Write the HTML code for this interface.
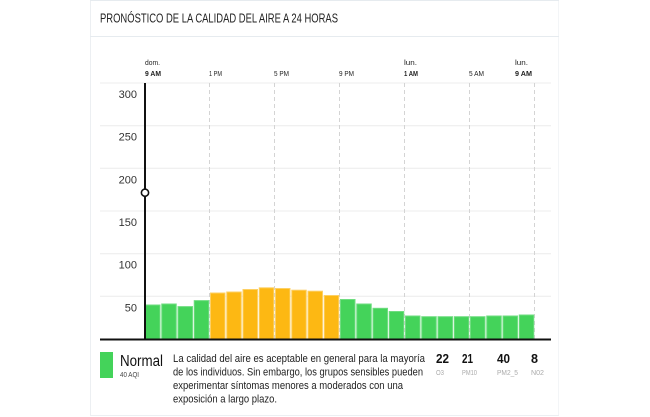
<!DOCTYPE html>
<html>
<head>
<meta charset="utf-8">
<style>
  html, body { margin: 0; padding: 0; background: #ffffff; }
  body { width: 650px; height: 417px; overflow: hidden; }
  svg { display: block; font-family: "Liberation Sans", sans-serif; }
</style>
</head>
<body>
<svg width="650" height="417" viewBox="0 0 650 417" xmlns="http://www.w3.org/2000/svg">
  <!-- card borders -->
  <line x1="90.5" y1="0" x2="90.5" y2="416" stroke="#eceff2" stroke-width="1"/>
  <line x1="558.5" y1="0" x2="558.5" y2="416" stroke="#f3f5f7" stroke-width="1"/>
  <line x1="90" y1="0.5" x2="559" y2="0.5" stroke="#e6ebef" stroke-width="1"/>
  <line x1="90" y1="36.5" x2="559" y2="36.5" stroke="#e6ebef" stroke-width="1"/>
  <line x1="90" y1="415.5" x2="559" y2="415.5" stroke="#eceff2" stroke-width="1"/>

  <!-- title -->
  <text x="100" y="22.5" font-size="12.5" fill="#222" textLength="238" lengthAdjust="spacingAndGlyphs">PRONÓSTICO DE LA CALIDAD DEL AIRE A 24 HORAS</text>

  <!-- top tick labels -->
  <g font-size="7.5" fill="#222">
    <text x="145" y="65" textLength="15" lengthAdjust="spacingAndGlyphs">dom.</text>
    <text x="404" y="65" textLength="13" lengthAdjust="spacingAndGlyphs">lun.</text>
    <text x="515" y="65" textLength="13" lengthAdjust="spacingAndGlyphs">lun.</text>
  </g>
  <g font-size="7.5" fill="#222">
    <text x="145" y="76" font-weight="bold" textLength="16" lengthAdjust="spacingAndGlyphs">9 AM</text>
    <text x="209" y="76" textLength="13" lengthAdjust="spacingAndGlyphs">1 PM</text>
    <text x="274" y="76" textLength="15" lengthAdjust="spacingAndGlyphs">5 PM</text>
    <text x="339" y="76" textLength="15" lengthAdjust="spacingAndGlyphs">9 PM</text>
    <text x="404" y="76" font-weight="bold" textLength="14" lengthAdjust="spacingAndGlyphs">1 AM</text>
    <text x="469" y="76" textLength="15" lengthAdjust="spacingAndGlyphs">5 AM</text>
    <text x="515" y="76" font-weight="bold" textLength="17" lengthAdjust="spacingAndGlyphs">9 AM</text>
  </g>

  <!-- horizontal gridlines -->
  <g stroke="#ececec" stroke-width="1">
    <line x1="100" y1="83" x2="551" y2="83"/>
    <line x1="100" y1="125.7" x2="551" y2="125.7"/>
    <line x1="100" y1="168.3" x2="551" y2="168.3"/>
    <line x1="100" y1="211" x2="551" y2="211"/>
    <line x1="100" y1="253.7" x2="551" y2="253.7"/>
    <line x1="100" y1="296.3" x2="551" y2="296.3"/>
  </g>

  <!-- y labels -->
  <g font-size="11" fill="#333" text-anchor="end">
    <text x="137" y="98">300</text>
    <text x="137" y="140.7">250</text>
    <text x="137" y="183.3">200</text>
    <text x="137" y="226">150</text>
    <text x="137" y="268.7">100</text>
    <text x="137" y="311.3">50</text>
  </g>

  <!-- dashed vertical lines -->
  <g stroke="#d4d4d4" stroke-width="1" stroke-dasharray="4 3">
    <line x1="209.5" y1="83" x2="209.5" y2="339"/>
    <line x1="274.5" y1="83" x2="274.5" y2="339"/>
    <line x1="339.5" y1="83" x2="339.5" y2="339"/>
    <line x1="404.5" y1="83" x2="404.5" y2="339"/>
    <line x1="469.5" y1="83" x2="469.5" y2="339"/>
    <line x1="534.5" y1="83" x2="534.5" y2="339"/>
  </g>

  <!-- bars -->
  <g stroke-width="1">
    <rect x="145.5" y="305" width="14.5" height="34" fill="#44d35a" stroke="#6fdd80"/>
    <rect x="161.75" y="304" width="14.5" height="35" fill="#44d35a" stroke="#6fdd80"/>
    <rect x="178" y="306.6" width="14.5" height="32.4" fill="#44d35a" stroke="#6fdd80"/>
    <rect x="194.25" y="300.6" width="14.5" height="38.4" fill="#44d35a" stroke="#6fdd80"/>
    <rect x="210.5" y="293" width="14.5" height="46" fill="#fdb813" stroke="#fdd064"/>
    <rect x="226.75" y="292" width="14.5" height="47" fill="#fdb813" stroke="#fdd064"/>
    <rect x="243" y="289.5" width="14.5" height="49.5" fill="#fdb813" stroke="#fdd064"/>
    <rect x="259.25" y="287.8" width="14.5" height="51.2" fill="#fdb813" stroke="#fdd064"/>
    <rect x="275.5" y="288.5" width="14.5" height="50.5" fill="#fdb813" stroke="#fdd064"/>
    <rect x="291.75" y="290.2" width="14.5" height="48.8" fill="#fdb813" stroke="#fdd064"/>
    <rect x="308" y="291.2" width="14.5" height="47.8" fill="#fdb813" stroke="#fdd064"/>
    <rect x="324.25" y="295.5" width="14.5" height="43.5" fill="#fdb813" stroke="#fdd064"/>
    <rect x="340.5" y="299.5" width="14.5" height="39.5" fill="#44d35a" stroke="#6fdd80"/>
    <rect x="356.75" y="304" width="14.5" height="35" fill="#44d35a" stroke="#6fdd80"/>
    <rect x="373" y="308.3" width="14.5" height="30.7" fill="#44d35a" stroke="#6fdd80"/>
    <rect x="389.25" y="311.5" width="14.5" height="27.5" fill="#44d35a" stroke="#6fdd80"/>
    <rect x="405.5" y="316" width="14.5" height="23" fill="#44d35a" stroke="#6fdd80"/>
    <rect x="421.75" y="316.7" width="14.5" height="22.3" fill="#44d35a" stroke="#6fdd80"/>
    <rect x="438" y="316.7" width="14.5" height="22.3" fill="#44d35a" stroke="#6fdd80"/>
    <rect x="454.25" y="316.7" width="14.5" height="22.3" fill="#44d35a" stroke="#6fdd80"/>
    <rect x="470.5" y="316.7" width="14.5" height="22.3" fill="#44d35a" stroke="#6fdd80"/>
    <rect x="486.75" y="316" width="14.5" height="23" fill="#44d35a" stroke="#6fdd80"/>
    <rect x="503" y="316" width="14.5" height="23" fill="#44d35a" stroke="#6fdd80"/>
    <rect x="519.25" y="315" width="14.5" height="24" fill="#44d35a" stroke="#6fdd80"/>
  </g>

  <!-- axis & baseline -->
  <line x1="145" y1="83" x2="145" y2="339" stroke="#111" stroke-width="2"/>
  <line x1="100" y1="339.5" x2="551" y2="339.5" stroke="#111" stroke-width="2"/>
  <circle cx="145" cy="192.7" r="3.6" fill="#fff" stroke="#111" stroke-width="1.6"/>

  <!-- legend -->
  <rect x="100" y="352" width="13" height="26" fill="#44d35a"/>
  <text x="120" y="366" font-size="15.5" fill="#111" textLength="43" lengthAdjust="spacingAndGlyphs">Normal</text>
  <text x="120" y="377" font-size="7" fill="#444" textLength="19" lengthAdjust="spacingAndGlyphs">40 AQI</text>

  <g font-size="11" fill="#222">
    <text x="173" y="362" textLength="252" lengthAdjust="spacingAndGlyphs">La calidad del aire es aceptable en general para la mayoría</text>
    <text x="173" y="375.5" textLength="250" lengthAdjust="spacingAndGlyphs">de los individuos. Sin embargo, los grupos sensibles pueden</text>
    <text x="173" y="389" textLength="230" lengthAdjust="spacingAndGlyphs">experimentar síntomas menores a moderados con una</text>
    <text x="173" y="402.5" textLength="104" lengthAdjust="spacingAndGlyphs">exposición a largo plazo.</text>
  </g>

  <!-- pollutants -->
  <g font-size="13" font-weight="bold" fill="#111">
    <text x="436" y="363" textLength="13" lengthAdjust="spacingAndGlyphs">22</text>
    <text x="462" y="363" textLength="11" lengthAdjust="spacingAndGlyphs">21</text>
    <text x="497" y="363" textLength="13" lengthAdjust="spacingAndGlyphs">40</text>
    <text x="531" y="363" textLength="7" lengthAdjust="spacingAndGlyphs">8</text>
  </g>
  <g font-size="7" fill="#aaa">
    <text x="436" y="375" textLength="8" lengthAdjust="spacingAndGlyphs">O3</text>
    <text x="462" y="375" textLength="15" lengthAdjust="spacingAndGlyphs">PM10</text>
    <text x="497" y="375" textLength="21" lengthAdjust="spacingAndGlyphs">PM2_5</text>
    <text x="531" y="375" textLength="13" lengthAdjust="spacingAndGlyphs">N02</text>
  </g>
</svg>
</body>
</html>
